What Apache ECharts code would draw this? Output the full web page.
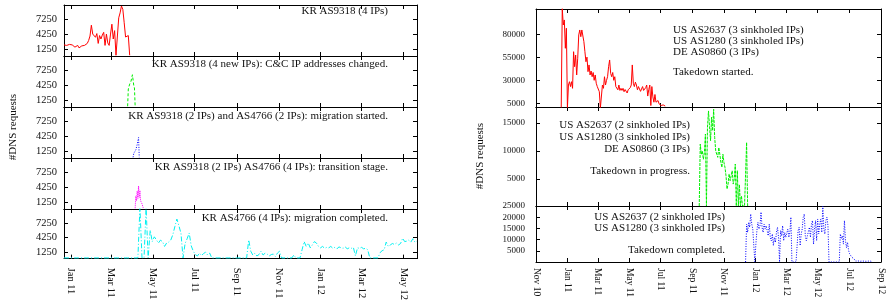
<!DOCTYPE html>
<html>
<head>
<meta charset="utf-8">
<script src="https://cdn.jsdelivr.net/npm/echarts@6/dist/echarts.min.js"></script>
<style>
  html, body { margin: 0; padding: 0; background: #fff; }
  #chart { width: 888px; height: 303px; }
</style>
</head>
<body>
<div id="chart"></div>
<script>
// ---- data ----
const DAY = 86400000;
function utc(s) { const p = s.split('-').map(Number); return Date.UTC(p[0], p[1] - 1, p[2]); }

// left panel: KR AS9318 / AS4766
const leftTickDates = ['2011-01-01', '2011-03-01', '2011-05-01', '2011-07-01', '2011-09-01', '2011-11-01', '2012-01-01', '2012-03-01', '2012-05-01'];
const leftTickLabels = ['Jan 11', 'Mar 11', 'May 11', 'Jul 11', 'Sep 11', 'Nov 11', 'Jan 12', 'Mar 12', 'May 12'];
const leftYTicks = [1250, 4250, 7250];

// red, every 2 days from 2010-12-22
const redLeftStart = '2010-12-22';
const redLeftValues = [2100, 1900, 2000, 1700, 2200, 2300, 2100, 2150, 1650, 1800, 2000, 1500, 1350, 1900, 1700, 2000, 1800, 2400, 3000, 3900,
  6100, 4300, 4650, 3650, 4400, 2400, 4000, 3300, 4100, 4650, 2000, 4300, 2500, 2000, 4300, 6300, 3300, 5000, 0, 0,
  7600, 8600, 10000, 9300, 6600, 3700, 3300, 4000, 0];
// green, daily from 2011-03-25
const greenLeftStart = '2011-03-25';
const greenLeftValues = [0, 3500, 3800, 4500, 4700, 5100, 5800, 6400, 5300, 4200, 3700, 0];
// blue, daily from 2011-04-02
const blueLeftStart = '2011-04-02';
const blueLeftValues = [0, 800, 1200, 900, 1500, 1900, 2600, 3300, 4000, 0];
// magenta, daily from 2011-04-05
const magentaLeftStart = '2011-04-05';
const magentaLeftValues = [0, 2500, 1500, 3500, 2000, 4500, 2200, 3600, 1500, 1200, 900, 600, 0];
// cyan, every 3 days from 2010-12-22
const cyanLeftStart = '2010-12-22';
const cyanLeftValues = [0, 0, 0, 0, 0, 0, 0, 0, 0, 0, 0, 0, 0, 0, 0, 0, 0, 0, 0, 0,
  0, 0, 0, 0, 0, 0, 0, 0, 0, 0, 0, 0, 0, 0, 0, 0, 0, 10500, 0, 0,
  10500, 0, 5800, 3400, 4400, 3800, 3100, 3700, 3400, 2400, 3100, 3300, 3700, 4800, 6500, 8100, 6700, 5100, 0, 3000,
  4000, 5200, 2500, 1400, 700, 400, 1000, 500, 900, 1200, 600, 1000, 0, 0, 0, 0, 0, 0, 0, 0,
  0, 0, 0, 0, 0, 0, 0, 0, 0, 0, 3750, 1400, 600, 1000, 400, 700, 1400, 600, 1000, 800,
  400, 700, 800, 300, 1000, 1400, 0, 0, 0, 0, 0, 0, 600, 0, 0, 0, 1700, 3400, 2400, 3100,
  2100, 2700, 3400, 3100, 2400, 2100, 2400, 2000, 2200, 2100, 2400, 2000, 2200, 1900, 2300, 2100, 2000, 2300, 1900, 2100,
  2000, 2200, 400, 2100, 2000, 2200, 1900, 2000, 1700, 0, 0, 0, 0, 0, 1100, 1500, 1700, 3300, 2400, 2700,
  3000, 2800, 3100, 2700, 3000, 4100, 3400, 3500, 3700, 3300, 4000, 3300, 3500];

// right panel: takedown
const rightTickDates = ['2010-11-01', '2011-01-01', '2011-03-01', '2011-05-01', '2011-07-01', '2011-09-01', '2011-11-01', '2012-01-01', '2012-03-01', '2012-05-01', '2012-07-01', '2012-09-01'];
const rightTickLabels = ['Nov 10', 'Jan 11', 'Mar 11', 'May 11', 'Jul 11', 'Sep 11', 'Nov 11', 'Jan 12', 'Mar 12', 'May 12', 'Jul 12', 'Sep 12'];
const rightYTicks1 = [5000, 30000, 55000, 80000];
const rightYTicks2 = [5000, 10000, 15000];
const rightYTicks3 = [5000, 10000, 15000, 20000, 25000];

// red, every 2 days from 2010-12-20
const redRightStart = '2010-12-20';
const redRightValues = [0, 108000, 90100, 95600, 64800, 86600, 0, 24900, 28500, 23200,
  28500, 21300, 61100, 44800, 57500, 35800, 54000, 79300, 84700, 77400,
  84700, 84700, 72000, 61100, 50200, 55200, 39400, 46700, 35800, 40100,
  33900, 38500, 30000, 35800, 26800, 23200, 23200, 17600, 0, 0,
  24900, 21300, 33900, 24900, 30000, 33900, 44800, 52100, 37600, 33900,
  38500, 30000, 33900, 23200, 25000, 19700, 24900, 19000, 21300, 19000,
  21300, 17600, 20000, 19700, 16200, 19700, 18000, 22000, 24900, 46700,
  26800, 23200, 28000, 24900, 19700, 23200, 23200, 18000, 16200, 23200,
  19000, 17600, 22000, 24900, 12900, 20000, 24900, 2600, 23200, 12000,
  6200, 14600, 6200, 8000, 8000, 4400, 5000, 2600, 3300, 3300,
  1700, 2000];
// green, every 2 days from 2011-09-14
const greenRightStart = '2011-09-14';
const greenRightValues = [200, 11200, 9400, 10000, 8500, 9700, 13000, 200, 14200, 17100,
  14300, 11800, 16000, 13600, 17400, 12400, 10000, 9400, 8850, 10600,
  9400, 7950, 7070, 9400, 7950, 7070, 5580, 3220, 4100, 5900,
  4700, 5580, 6470, 4100, 5000, 7660, 200, 6500, 200, 4000,
  200, 2000, 200, 200, 200, 200, 11500, 200];
// blue, every 2 days from 2011-12-13
const blueRightStart = '2011-12-13';
const blueRightValues = [0, 16900, 13200, 17700, 15500, 21400, 16900, 14700, 14000, 0,
  8000, 14000, 17700, 14700, 16200, 22300, 15500, 13200, 16900, 14700,
  16200, 16200, 11700, 16900, 11000, 9500, 12500, 7300, 11000, 8800,
  13200, 15500, 11000, 0, 14000, 11700, 16200, 9500, 13200, 11000,
  11700, 14700, 11000, 13200, 20000, 0, 0, 0, 0, 0,
  0, 14000, 15500, 7300, 12500, 14700, 20000, 21400, 11700, 9500,
  11700, 11000, 15500, 11000, 16900, 18500, 8000, 14700, 18500, 9500,
  19200, 12500, 16900, 19200, 13200, 25000, 14700, 12500, 18500, 20000,
  16200, 0, 0, 0, 0, 0, 0, 0, 0, 0,
  0, 0, 12500, 10400, 11700, 8000, 18500, 9500, 6400, 8800,
  5200, 3700, 4500, 2200, 3000, 1500, 700, 400, 300, 500,
  400, 300, 400, 400, 300, 400, 500, 300, 400, 400,
  300, 400, 300];

// ---- building the chart ----
const SERIF = '"Liberation Serif", "DejaVu Serif", serif';

function toSeries(start, stepDays, values) {
  const t0 = utc(start);
  return values.map((v, i) => [t0 + i * stepDays * DAY, v]);
}

function labelMap(dates, labels) {
  const m = {};
  dates.forEach((d, i) => { m[utc(d)] = labels[i]; });
  return m;
}

const leftTicks = leftTickDates.map(utc);
const rightTicks = rightTickDates.map(utc);
const leftLabelMap = labelMap(leftTickDates, leftTickLabels);
const rightLabelMap = labelMap(rightTickDates, rightTickLabels);

const grids = [];
const xAxes = [];
const yAxes = [];
const series = [];

function addPanel(box, xr, ticks, lmap, showX, xFont, xMargin, yr, yTicks, yFont, yMargin) {
  const gi = grids.length;
  grids.push({ left: box[0], top: box[1], width: box[2], height: box[3] });
  const line = { show: true, onZero: false, lineStyle: { color: '#000', width: 1 } };
  ['bottom', 'top'].forEach(pos => {
    xAxes.push({
      type: 'value', gridIndex: gi, min: xr[0], max: xr[1], position: pos,
      axisLine: line,
      axisTick: { show: true, inside: true, length: 4, customValues: ticks, lineStyle: { color: '#000' } },
      axisLabel: {
        show: showX && pos === 'bottom', customValues: ticks, rotate: -90, margin: xMargin,
        fontFamily: SERIF, fontSize: xFont, color: '#111',
        formatter: v => lmap[v] || ''
      },
      splitLine: { show: false }
    });
  });
  ['left', 'right'].forEach(pos => {
    yAxes.push({
      type: 'value', gridIndex: gi, min: yr[0], max: yr[1], position: pos,
      axisLine: line,
      axisTick: { show: true, inside: true, length: 4, customValues: yTicks, lineStyle: { color: '#000' } },
      axisLabel: {
        show: pos === 'left', customValues: yTicks, margin: yMargin,
        fontFamily: SERIF, fontSize: yFont, color: '#111',
        formatter: v => String(v)
      },
      splitLine: { show: false }
    });
  });
  return gi;
}

function addLine(gi, data, color, dash) {
  series.push({
    type: 'line', xAxisIndex: gi * 2, yAxisIndex: gi * 2, data: data,
    symbol: 'none', clip: true, animation: false, silent: true,
    lineStyle: { color: color, width: 1, type: dash }
  });
}

// left panel grids
const LX = [utc('2010-12-22'), utc('2012-05-21')];
const LY = [-150, 10200];
const leftTops = [5, 56, 107, 158, 209];
const leftHeights = [51, 51, 51, 51, 52];
const leftGi = leftTops.map((t, k) =>
  addPanel([64, t, 353, leftHeights[k]], LX, leftTicks, leftLabelMap, k === 4, 10.5, 9, LY, leftYTicks, 10.5, 7));

addLine(leftGi[0], toSeries(redLeftStart, 2, redLeftValues), '#ff0000', 'solid');
addLine(leftGi[1], toSeries(greenLeftStart, 1, greenLeftValues), '#00ee00', [3, 2]);
addLine(leftGi[2], toSeries(blueLeftStart, 1, blueLeftValues), '#0000ff', [1, 1.5]);
addLine(leftGi[3], toSeries(magentaLeftStart, 1, magentaLeftValues), '#ff00ff', [1, 1]);
addLine(leftGi[4], toSeries(cyanLeftStart, 3, cyanLeftValues), '#00f0f0', [5, 2, 1, 2]);

// right panel grids
const RX = [utc('2010-11-01'), utc('2012-09-01')];
const r1 = addPanel([536, 9, 345, 98], RX, rightTicks, rightLabelMap, false, 9.5, 6, [1000, 107500], rightYTicks1, 9, 11);
const r2 = addPanel([536, 107, 345, 99], RX, rightTicks, rightLabelMap, false, 9.5, 6, [200, 17800], rightYTicks2, 9, 11);
const r3 = addPanel([536, 206, 345, 56], RX, rightTicks, rightLabelMap, true, 9.5, 6, [0, 25000], rightYTicks3, 9, 11);

addLine(r1, toSeries(redRightStart, 2, redRightValues), '#ff0000', 'solid');
addLine(r2, toSeries(greenRightStart, 2, greenRightValues), '#00ee00', [3, 1]);
addLine(r3, toSeries(blueRightStart, 2, blueRightValues), '#0000ff', [1, 1.5]);

// text labels
function txt(x, y, s, align, rot) {
  return {
    type: 'text', x: x, y: y, rotation: rot || 0, silent: true,
    style: {
      text: s, align: align, textAlign: align, verticalAlign: 'middle', textVerticalAlign: 'middle',
      font: '11px ' + SERIF, fill: '#111'
    }
  };
}

const graphics = [
  txt(388, 11, 'KR AS9318 (4 IPs)', 'right'),
  txt(388, 64, 'KR AS9318 (4 new IPs): C&C IP addresses changed.', 'right'),
  txt(388, 116, 'KR AS9318 (2 IPs) and AS4766 (2 IPs): migration started.', 'right'),
  txt(388, 167, 'KR AS9318 (2 IPs) AS4766 (4 IPs): transition stage.', 'right'),
  txt(388, 218, 'KR AS4766 (4 IPs): migration completed.', 'right'),
  txt(13, 127, '#DNS requests', 'center', Math.PI / 2),

  txt(673, 30, 'US AS2637 (3 sinkholed IPs)', 'left'),
  txt(673, 41, 'US AS1280 (3 sinkholed IPs)', 'left'),
  txt(673, 52, 'DE AS0860 (3 IPs)', 'left'),
  txt(673, 72, 'Takedown started.', 'left'),
  txt(690, 125, 'US AS2637 (2 sinkholed IPs)', 'right'),
  txt(690, 137, 'US AS1280 (3 sinkholed IPs)', 'right'),
  txt(690, 149, 'DE AS0860 (3 IPs)', 'right'),
  txt(690, 171, 'Takedown in progress.', 'right'),
  txt(725, 217, 'US AS2637 (2 sinkholed IPs)', 'right'),
  txt(725, 228, 'US AS1280 (3 sinkholed IPs)', 'right'),
  txt(725, 250, 'Takedown completed.', 'right'),
  txt(480, 156, '#DNS requests', 'center', Math.PI / 2)
];

const chart = echarts.init(document.getElementById('chart'), null, { renderer: 'canvas' });
chart.setOption({
  backgroundColor: '#fff',
  animation: false,
  grid: grids,
  xAxis: xAxes,
  yAxis: yAxes,
  series: series,
  graphic: graphics
});
</script>
</body>
</html>
